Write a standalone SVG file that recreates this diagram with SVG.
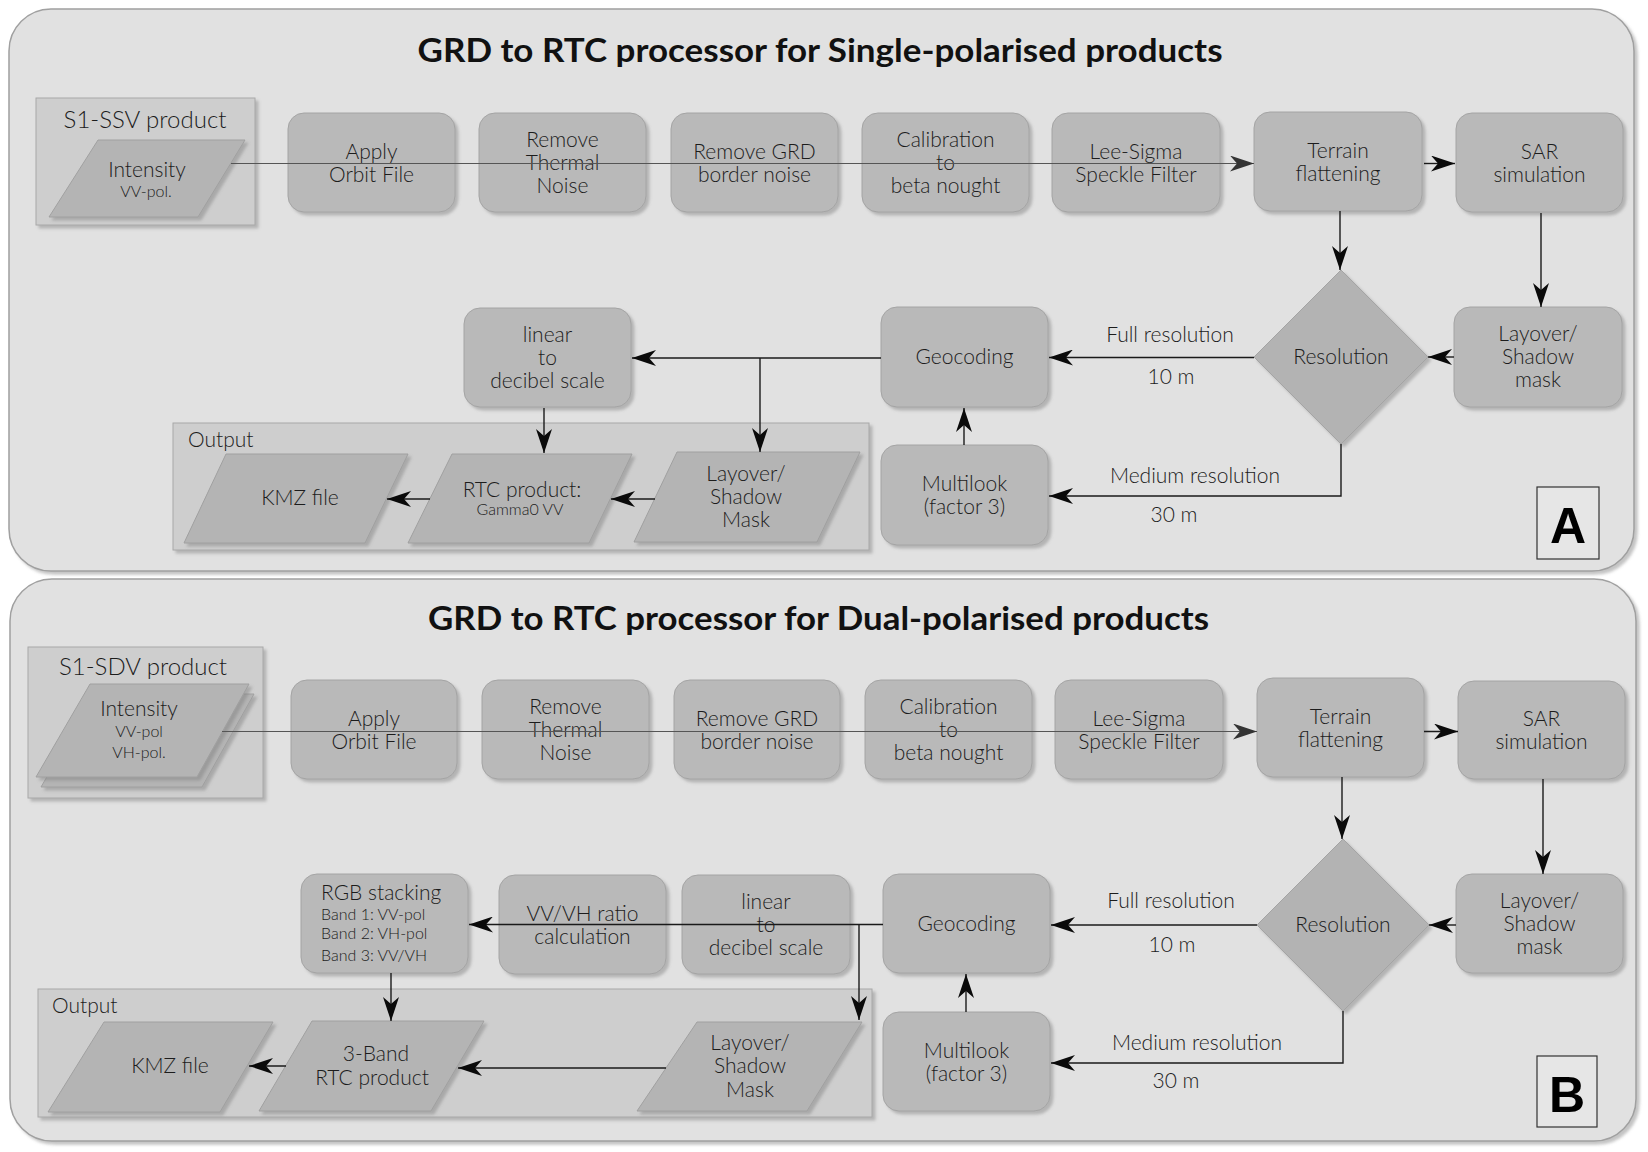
<svg xmlns="http://www.w3.org/2000/svg" width="1648" height="1152" viewBox="0 0 1648 1152">
<style>
.bg{fill:#ffffff}
.panel{fill:#e1e1e1;stroke:#a0a0a0;stroke-width:1.5;filter:url(#sh)}
.box{fill:#b9b9b9;stroke:#a4a4a4;stroke-width:1;filter:url(#sh)}
.cont{fill:#cecece;stroke:#a8a8a8;stroke-width:1;filter:url(#sh)}
.para{fill:#b4b4b4;stroke:#a0a0a0;stroke-width:1;filter:url(#sh)}
.dia{fill:#b3b3b3;stroke:#a4a4a4;stroke-width:1;filter:url(#sh)}
.lbl{fill:#e6e6e6;stroke:#333;stroke-width:1.2}
.t{font-family:Lato,"Open Sans","DejaVu Sans",sans-serif;font-weight:300;font-size:21px;fill:#1c1c1c;text-anchor:middle}
.s{font-size:16px}
.xs{font-size:16px}
.big{font-size:24px}
.st{text-anchor:start}
.title{font-family:Lato,"Open Sans","DejaVu Sans",sans-serif;font-weight:700;font-size:33px;fill:#111;text-anchor:middle}
.letter{font-family:"Liberation Sans",Arial,sans-serif;font-weight:700;font-size:50px;fill:#000;text-anchor:middle}
.conn{stroke:#1a1a1a;stroke-width:1.4;fill:none;marker-end:url(#ah)}
.row{stroke:#555;stroke-width:1.2;fill:none;marker-end:url(#ahg)}
</style>
<defs>
<filter id="sh" x="-5%" y="-5%" width="115%" height="120%">
<feDropShadow dx="3" dy="3" stdDeviation="1.5" flood-color="#7a7a7a" flood-opacity="0.45"/>
</filter>
<marker id="ah" viewBox="0 0 24 16" refX="24" refY="8" markerWidth="24" markerHeight="16" markerUnits="userSpaceOnUse" orient="auto">
<path d="M0,0 L24,8 L0,16 L7,8 z" fill="#0a0a0a"/>
</marker>
<marker id="ahg" viewBox="0 0 24 16" refX="24" refY="8" markerWidth="24" markerHeight="16" markerUnits="userSpaceOnUse" orient="auto">
<path d="M0,0 L24,8 L0,16 L7,8 z" fill="#333"/>
</marker>
</defs>
<rect class="bg" x="0" y="0" width="1648" height="1152"/>

<!-- Panel A -->
<g id="panelA">
<rect class="panel" x="9" y="9" width="1625" height="562" rx="42"/>
<text class="title" x="820" y="62" textLength="805" lengthAdjust="spacingAndGlyphs">GRD to RTC processor for Single-polarised products</text>
</g>
<g id="a-input">
<rect class="cont" x="36" y="98" width="219" height="127"/>
<text class="t big" x="145" y="128">S1-SSV product</text>
<polygon class="para" points="98,140 245,140 198,217 49,217"/>
<text class="t" x="147" y="177">Intensity</text>
<text class="t xs" x="146" y="197">VV-pol.</text>
</g>
<g id="a-orbit"><rect class="box" x="288" y="113" width="167" height="99" rx="16"/><text class="t" x="371.5" y="158.5">Apply</text><text class="t" x="371.5" y="181.5">Orbit File</text></g>
<g id="a-thermal"><rect class="box" x="479" y="113" width="167" height="99" rx="16"/><text class="t" x="562.5" y="146.5">Remove</text><text class="t" x="562.5" y="169.5">Thermal</text><text class="t" x="562.5" y="192.5">Noise</text></g>
<g id="a-border"><rect class="box" x="671" y="113" width="167" height="99" rx="16"/><text class="t" x="754.5" y="158.5">Remove GRD</text><text class="t" x="754.5" y="181.5">border noise</text></g>
<g id="a-calib"><rect class="box" x="862" y="113" width="167" height="99" rx="16"/><text class="t" x="945.5" y="146.5">Calibration</text><text class="t" x="945.5" y="169.5">to</text><text class="t" x="945.5" y="192.5">beta nought</text></g>
<g id="a-lee"><rect class="box" x="1052" y="113" width="168" height="99" rx="16"/><text class="t" x="1136" y="158.5">Lee-Sigma</text><text class="t" x="1136" y="181.5">Speckle Filter</text></g>
<g id="a-terrain"><rect class="box" x="1254" y="112" width="168" height="99" rx="16"/><text class="t" x="1338" y="157.5">Terrain</text><text class="t" x="1338" y="180.5">flattening</text></g>
<g id="a-sar"><rect class="box" x="1456" y="113" width="167" height="99" rx="16"/><text class="t" x="1539.5" y="158.5">SAR</text><text class="t" x="1539.5" y="181.5">simulation</text></g>
<g id="a-layover"><rect class="box" x="1454" y="307" width="168" height="100" rx="16"/><text class="t" x="1538" y="341">Layover/</text><text class="t" x="1538" y="364">Shadow</text><text class="t" x="1538" y="387">mask</text></g>
<g id="a-resolution"><polygon class="dia" points="1341,270 1428,357 1341,444 1254,357"/><text class="t" x="1341" y="364">Resolution</text></g>
<g id="a-geocoding"><rect class="box" x="881" y="307" width="167" height="100" rx="16"/><text class="t" x="964.5" y="364">Geocoding</text></g>
<g id="a-multilook"><rect class="box" x="881" y="445" width="167" height="100" rx="16"/><text class="t" x="964.5" y="491">Multilook</text><text class="t" x="964.5" y="514">(factor 3)</text></g>
<g id="a-linear"><rect class="box" x="464" y="308" width="167" height="99" rx="16"/><text class="t" x="547.5" y="341.5">linear</text><text class="t" x="547.5" y="364.5">to</text><text class="t" x="547.5" y="387.5">decibel scale</text></g>
<g id="a-output">
<rect class="cont" x="173" y="423" width="696" height="127"/>
<text class="t st" x="188" y="447">Output</text>
</g>
<g id="a-kmz"><polygon class="para" points="226,454 408,454 365,543 184,543"/><text class="t" x="300" y="505">KMZ file</text></g>
<g id="a-rtc"><polygon class="para" points="452,454 632,454 589,543 408,543"/><text class="t" x="522" y="497">RTC product:</text><text class="t xs" x="520" y="515">Gamma0 VV</text></g>
<g id="a-mask"><polygon class="para" points="677,452 860,452 817,542 634,542"/><text class="t" x="746" y="481">Layover/</text><text class="t" x="746" y="504">Shadow</text><text class="t" x="746" y="527">Mask</text></g>
<g id="a-label"><rect class="lbl" x="1537" y="487" width="62" height="72"/><text class="letter" x="1568" y="543">A</text></g>

<!-- Panel B -->
<g id="panelB">
<rect class="panel" x="10" y="579" width="1626" height="562" rx="42"/>
<text class="title" x="818.5" y="629.5" textLength="781" lengthAdjust="spacingAndGlyphs">GRD to RTC processor for Dual-polarised products</text>
</g>
<g id="b-input">
<rect class="cont" x="28" y="647" width="235" height="151"/>
<text class="t big" x="143" y="675">S1-SDV product</text>
<polygon class="para" points="95,694 254,694 202,787 41,787"/>
<polygon class="para" points="90,684 249,684 197,777 36,777"/>
<text class="t" x="139" y="716">Intensity</text>
<text class="t s" x="139" y="737">VV-pol</text>
<text class="t s" x="139" y="758">VH-pol.</text>
</g>
<g id="b-orbit"><rect class="box" x="291" y="680" width="166" height="99" rx="16"/><text class="t" x="374" y="725.5">Apply</text><text class="t" x="374" y="748.5">Orbit File</text></g>
<g id="b-thermal"><rect class="box" x="482" y="680" width="167" height="99" rx="16"/><text class="t" x="565.5" y="713.5">Remove</text><text class="t" x="565.5" y="736.5">Thermal</text><text class="t" x="565.5" y="759.5">Noise</text></g>
<g id="b-border"><rect class="box" x="674" y="680" width="166" height="99" rx="16"/><text class="t" x="757" y="725.5">Remove GRD</text><text class="t" x="757" y="748.5">border noise</text></g>
<g id="b-calib"><rect class="box" x="865" y="680" width="167" height="99" rx="16"/><text class="t" x="948.5" y="713.5">Calibration</text><text class="t" x="948.5" y="736.5">to</text><text class="t" x="948.5" y="759.5">beta nought</text></g>
<g id="b-lee"><rect class="box" x="1055" y="680" width="168" height="99" rx="16"/><text class="t" x="1139" y="725.5">Lee-Sigma</text><text class="t" x="1139" y="748.5">Speckle Filter</text></g>
<g id="b-terrain"><rect class="box" x="1257" y="678" width="167" height="99" rx="16"/><text class="t" x="1340.5" y="723.5">Terrain</text><text class="t" x="1340.5" y="746.5">flattening</text></g>
<g id="b-sar"><rect class="box" x="1458" y="681" width="167" height="98" rx="16"/><text class="t" x="1541.5" y="726">SAR</text><text class="t" x="1541.5" y="749">simulation</text></g>
<g id="b-layover"><rect class="box" x="1456" y="874" width="167" height="99" rx="16"/><text class="t" x="1539.5" y="907.5">Layover/</text><text class="t" x="1539.5" y="930.5">Shadow</text><text class="t" x="1539.5" y="953.5">mask</text></g>
<g id="b-resolution"><polygon class="dia" points="1343,839 1429,925 1343,1011 1257,925"/><text class="t" x="1343" y="932">Resolution</text></g>
<g id="b-geocoding"><rect class="box" x="883" y="874" width="167" height="99" rx="16"/><text class="t" x="966.5" y="930.5">Geocoding</text></g>
<g id="b-multilook"><rect class="box" x="883" y="1012" width="167" height="99" rx="16"/><text class="t" x="966.5" y="1057.5">Multilook</text><text class="t" x="966.5" y="1080.5">(factor 3)</text></g>
<g id="b-linear"><rect class="box" x="682" y="875" width="168" height="99" rx="16"/><text class="t" x="766" y="908.5">linear</text><text class="t" x="766" y="931.5">to</text><text class="t" x="766" y="954.5">decibel scale</text></g>
<g id="b-ratio"><rect class="box" x="499" y="875" width="167" height="99" rx="16"/><text class="t" x="582.5" y="920.5">VV/VH ratio</text><text class="t" x="582.5" y="943.5">calculation</text></g>
<g id="b-rgb"><rect class="box" x="301" y="874" width="167" height="99" rx="16"/><text class="t st" x="321" y="900">RGB stacking</text><text class="t s st" x="321" y="920">Band 1: VV-pol</text><text class="t s st" x="321" y="939">Band 2: VH-pol</text><text class="t s st" x="321" y="961">Band 3: VV/VH</text></g>
<g id="b-output">
<rect class="cont" x="38" y="989" width="834" height="128"/>
<text class="t st" x="52" y="1013">Output</text>
</g>
<g id="b-kmz"><polygon class="para" points="104,1022 273,1022 220,1112 48,1112"/><text class="t" x="170" y="1073">KMZ file</text></g>
<g id="b-3band"><polygon class="para" points="312,1021 484,1021 431,1111 259,1111"/><text class="t" x="376" y="1061">3-Band</text><text class="t" x="372" y="1085">RTC product</text></g>
<g id="b-mask"><polygon class="para" points="697,1022 862,1022 807,1111 637,1111"/><text class="t" x="750" y="1050">Layover/</text><text class="t" x="750" y="1073">Shadow</text><text class="t" x="750" y="1097">Mask</text></g>
<g id="b-label"><rect class="lbl" x="1537" y="1056" width="60" height="71"/><text class="letter" x="1567" y="1112">B</text></g>

<!-- Connectors -->
<g id="connectors">
<path class="row" d="M231,163.5 H1254"/>
<path class="conn" d="M1424,163.5 H1455"/>
<path class="conn" d="M1340,211 V270"/>
<path class="conn" d="M1541,213 V307"/>
<path class="conn" d="M1454,357 H1428"/>
<path class="conn" d="M1254,357.5 H1049"/>
<path class="conn" d="M1341,444 V496 H1049"/>
<path class="conn" d="M964,445 V408"/>
<path class="conn" d="M881,358 H632"/>
<path class="conn" d="M760,358 V452"/>
<path class="conn" d="M544,408 V453"/>
<path class="conn" d="M655,499 H611"/>
<path class="conn" d="M430,499 H387"/>

<path class="row" d="M222,731.5 H1257"/>
<path class="conn" d="M1424,731.5 H1458"/>
<path class="conn" d="M1342,777 V839"/>
<path class="conn" d="M1543,779 V874"/>
<path class="conn" d="M1456,925 H1429"/>
<path class="conn" d="M1257,925 H1051"/>
<path class="conn" d="M1343,1011 V1063 H1051"/>
<path class="conn" d="M966,1012 V974"/>
<path class="conn" d="M883,924.5 H469"/>
<path class="conn" d="M859,924.5 V1020"/>
<path class="conn" d="M391,973 V1021"/>
<path class="conn" d="M666,1068 H458"/>
<path class="conn" d="M286,1066 H249"/>
</g>

<!-- Connector labels -->
<g id="labels">
<text class="t" x="1170" y="342">Full resolution</text>
<text class="t" x="1171" y="384">10 m</text>
<text class="t" x="1195" y="483">Medium resolution</text>
<text class="t" x="1174" y="522">30 m</text>
<text class="t" x="1171" y="908">Full resolution</text>
<text class="t" x="1172" y="952">10 m</text>
<text class="t" x="1197" y="1050">Medium resolution</text>
<text class="t" x="1176" y="1088">30 m</text>
</g>
</svg>
